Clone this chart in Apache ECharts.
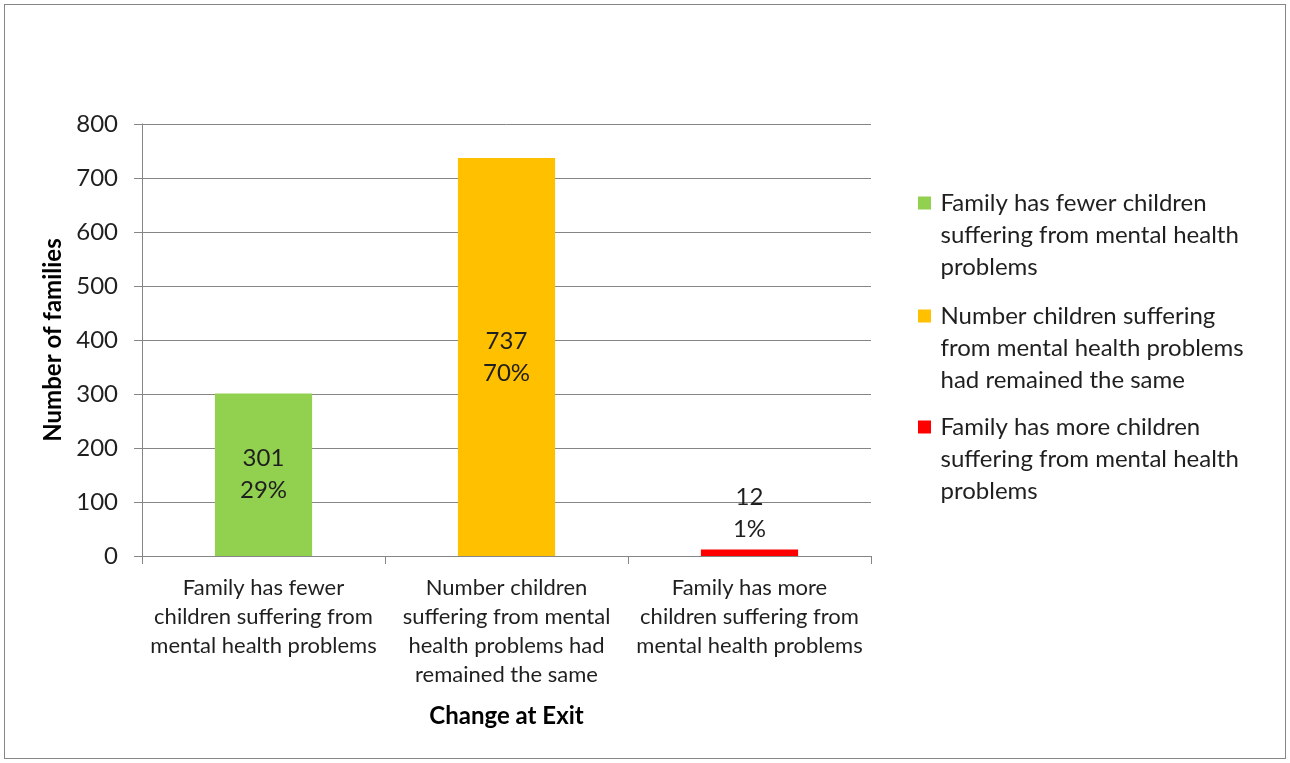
<!DOCTYPE html>
<html>
<head>
<meta charset="utf-8">
<script src="https://cdn.jsdelivr.net/npm/echarts@6/dist/echarts.min.js"></script>
<style>
html,body{margin:0;padding:0;background:#fff;}
#frame{position:absolute;left:4px;top:4px;width:1282px;height:755px;border:1px solid #868686;box-sizing:border-box;}
#chart{position:absolute;left:0;top:0;width:1290px;height:763px;}
</style>
</head>
<body>
<div id="frame"></div>
<div id="chart"></div>
<script>
const categories = [
  'Family has fewer children suffering from mental health problems',
  'Number children suffering from mental health problems had remained the same',
  'Family has more children suffering from mental health problems'
];
const xLabels = [
  'Family has fewer\nchildren suffering from\nmental health problems',
  'Number children\nsuffering from mental\nhealth problems had\nremained the same',
  'Family has more\nchildren suffering from\nmental health problems'
];
const legendLabels = [
  'Family has fewer children\nsuffering from mental health\nproblems',
  'Number children suffering\nfrom mental health problems\nhad remained the same',
  'Family has more children\nsuffering from mental health\nproblems'
];
const counts = [301, 737, 12];
const percents = [29, 70, 1];
const colors = ['#92D050', '#FFC000', '#FF0000'];
const yTicks = [0, 100, 200, 300, 400, 500, 600, 700, 800];

const FONT = 'Lato';
const TXT = '#1f1f1f';
const GRID = '#868686';

const chart = echarts.init(document.getElementById('chart'));

const series = categories.map((name, i) => ({
  name: name,
  type: 'bar',
  stack: 'all',
  barWidth: '40%',
  itemStyle: { color: colors[i] },
  data: categories.map((c, j) => (j === i ? counts[i] : null)),
  label: {
    show: true,
    position: counts[i] < 100 ? 'top' : 'inside',
    distance: 4,
    formatter: () => counts[i] + '\n' + percents[i] + '%',
    fontFamily: FONT,
    fontSize: 24,
    lineHeight: 32,
    color: TXT
  }
}));

const legendTops = [123, 236, 347];
const legends = categories.map((name, i) => ({
  data: [name],
  left: 918,
  top: legendTops[i],
  padding: 0,
  orient: 'vertical',
  itemWidth: 22,
  itemHeight: 13,
  icon: 'path://M0,0L1,0L1,1L0,1Z',
  symbolKeepAspect: true,
  selectedMode: false,
  formatter: () => '\n\n' + legendLabels[i],
  textStyle: {
    fontFamily: FONT,
    fontSize: 24,
    lineHeight: 32,
    color: TXT
  }
}));

chart.setOption({
  animation: false,
  textStyle: { fontFamily: FONT },
  grid: { left: 142, right: 419, top: 124, bottom: 207, containLabel: false },
  legend: legends,
  xAxis: {
    type: 'category',
    data: categories,
    boundaryGap: true,
    axisLine: { lineStyle: { color: GRID, width: 1 } },
    axisTick: { show: true, length: 8, interval: 0, lineStyle: { color: GRID } },
    axisLabel: {
      interval: 0,
      margin: 17,
      formatter: (v, idx) => xLabels[idx],
      fontFamily: FONT,
      fontSize: 22,
      lineHeight: 29,
      color: TXT
    },
    name: 'Change at Exit',
    nameLocation: 'middle',
    nameGap: 148,
    nameTextStyle: { fontFamily: FONT, fontSize: 24, fontWeight: 'bold', color: '#000' }
  },
  yAxis: {
    type: 'value',
    min: yTicks[0],
    max: yTicks[yTicks.length - 1],
    interval: yTicks[1] - yTicks[0],
    axisLine: { show: true, lineStyle: { color: GRID, width: 1 } },
    axisTick: { show: true, length: 8, lineStyle: { color: GRID } },
    splitLine: { lineStyle: { color: GRID, width: 1 } },
    axisLabel: { margin: 24, fontFamily: FONT, fontSize: 24, color: TXT },
    name: 'Number of families',
    nameLocation: 'middle',
    nameRotate: 90,
    nameGap: 70,
    nameTextStyle: { fontFamily: FONT, fontSize: 24, fontWeight: 'bold', color: '#000' }
  },
  series: series
});
</script>
</body>
</html>
